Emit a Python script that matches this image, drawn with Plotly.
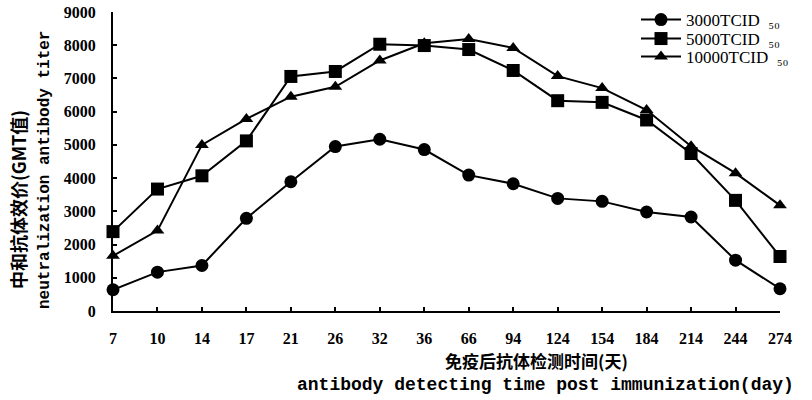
import plotly.graph_objects as go

days = ["7", "10", "14", "17", "21", "26", "32", "36", "66", "94", "124", "154", "184", "214", "244", "274"]
s3000 = [640, 1170, 1370, 2790, 3890, 4950, 5170, 4860, 4090, 3830, 3390, 3300, 2980, 2830, 1530, 670]
s5000 = [2390, 3670, 4070, 5120, 7060, 7210, 8030, 7990, 7870, 7240, 6330, 6280, 5750, 4740, 3330, 1640]
s10000 = [1660, 2420, 5000, 5780, 6450, 6750, 7540, 8060, 8190, 7920, 7070, 6710, 6050, 4960, 4150, 3180]
names = ["3000TCID  ₅₀", "5000TCID  ₅₀", "10000TCID  ₅₀"]
yticks = [0, 1000, 2000, 3000, 4000, 5000, 6000, 7000, 8000, 9000]

serif = "Liberation Serif"
mono = "Liberation Mono"
cjk = "Noto Sans CJK SC"

legend_ids = ["legend", "legend2", "legend3"]
legend_y_px = [20, 39, 57]

fig = go.Figure()
for vals, nm, sym, lid in zip([s3000, s5000, s10000], names, ["circle", "square", "triangle-up"], legend_ids):
    fig.add_trace(go.Scatter(
        x=days, y=vals, name=nm, mode="lines+markers",
        line=dict(color="black", width=2),
        marker=dict(symbol=sym, size=13 if sym != "triangle-up" else 12, color="black"),
        cliponaxis=False, legend=lid,
    ))

legend_common = dict(xanchor="left", yanchor="middle",
                     font=dict(family=serif, size=17, color="black"),
                     bgcolor="rgba(0,0,0,0)", itemwidth=40)
legends = {}
for lid, ypx in zip(legend_ids, legend_y_px):
    legends[lid] = dict(x=(636 - 113) / 667, y=(311 - ypx) / 299, **legend_common)

fig.update_layout(
    width=812, height=400,
    margin=dict(l=113, r=32, t=12, b=89, autoexpand=False),
    paper_bgcolor="white", plot_bgcolor="white",
    font=dict(family=serif, color="black", size=15),
    showlegend=True,
    **legends,
)
fig.update_xaxes(
    type="category", categoryorder="array", categoryarray=days,
    range=[0, len(days) - 1],
    showline=True, linecolor="black", linewidth=2,
    ticks="inside", ticklen=4, tickwidth=2, tickcolor="black",
    showgrid=False, zeroline=False,
    tickfont=dict(family=serif, size=16, color="black", weight="bold"),
    ticklabelstandoff=12,
)
fig.update_yaxes(
    range=[0, 9000], tickvals=yticks, ticktext=[str(v) for v in yticks],
    showline=True, linecolor="black", linewidth=2,
    ticks="inside", ticklen=4, tickwidth=2, tickcolor="black",
    showgrid=False, zeroline=False,
    tickfont=dict(family=serif, size=16, color="black", weight="bold"),
    ticklabelstandoff=12,
)

fig.add_annotation(text="免疫后抗体检测时间(天)", xref="paper", yref="paper",
                   x=(536 - 113) / 667, y=-(360 - 311) / 299, xanchor="center", yanchor="middle",
                   showarrow=False, font=dict(family=cjk, size=17, color="black", weight="bold"))
fig.add_annotation(text="antibody detecting time post immunization(day)", xref="paper", yref="paper",
                   x=(545 - 113) / 667, y=-(385 - 311) / 299, xanchor="center", yanchor="middle",
                   showarrow=False, font=dict(family=mono, size=18, color="black", weight="bold"))
fig.add_annotation(text="中和抗体效价(GMT值)", xref="paper", yref="paper",
                   x=-(113 - 18) / 667, y=(311 - 200) / 299, xanchor="center", yanchor="middle",
                   textangle=-90, showarrow=False,
                   font=dict(family=cjk, size=18, color="black", weight="bold"))
fig.add_annotation(text="neutralization antibody titer", xref="paper", yref="paper",
                   x=-(113 - 45) / 667, y=(311 - 170) / 299, xanchor="center", yanchor="middle",
                   textangle=-90, showarrow=False,
                   font=dict(family=mono, size=16, color="black", weight="bold"))

fig.write_html("out.html")
